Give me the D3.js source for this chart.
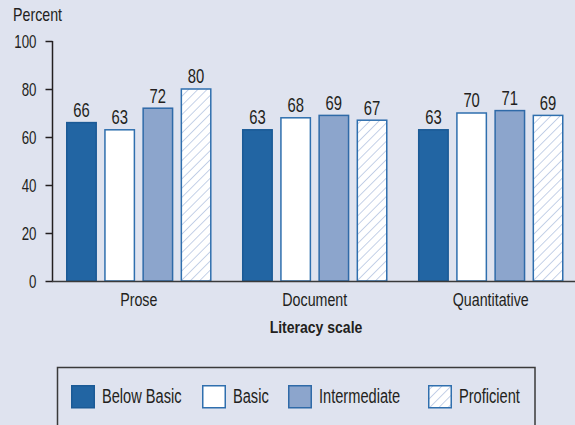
<!DOCTYPE html>
<html><head><meta charset="utf-8">
<script src="https://cdn.jsdelivr.net/npm/d3@7"></script>
<style>
html,body{margin:0;padding:0;background:#dfe3ef;}
svg{display:block;}
text{font-family:"Liberation Sans",Arial,sans-serif;fill:#231f20;}
</style></head>
<body>
<svg id="chart" width="575" height="425"></svg>
<script>
const categories = ["Prose", "Document", "Quantitative"];
const seriesNames = ["Below Basic", "Basic", "Intermediate", "Proficient"];
const belowBasic = [66, 63, 63];
const basic = [63, 68, 70];
const intermediate = [72, 69, 71];
const proficient = [80, 67, 69];
const yTicks = [0, 20, 40, 60, 80, 100];
const yLabel = "Percent";
const xLabel = "Literacy scale";

const seriesValues = [belowBasic, basic, intermediate, proficient];
const fills = ["#2265a3", "#ffffff", "#8ca5cc", "url(#hatch)"];
const strokes = ["#1b5a96", "#2f6fae", "#2f6aa8", "#2f6fae"];

function ctext(parent, x, yy, str, size, sx, anchor, weight) {
  return parent.append("text")
    .attr("transform", `scale(${sx},1)`)
    .attr("x", x / sx).attr("y", yy)
    .attr("text-anchor", anchor || "start")
    .attr("font-size", size)
    .attr("font-weight", weight || "normal")
    .text(str);
}

const svg = d3.select("#chart");
svg.append("rect").attr("width", 575).attr("height", 425).attr("fill", "#dfe3ef");

const defs = svg.append("defs");
const pat = defs.append("pattern").attr("id", "hatch").attr("patternUnits", "userSpaceOnUse")
  .attr("width", 6.5).attr("height", 6.5).attr("patternTransform", "rotate(45)");
pat.append("rect").attr("width", 6.5).attr("height", 6.5).attr("fill", "#ffffff");
pat.append("line").attr("x1", 0).attr("y1", 0).attr("x2", 0).attr("y2", 6.5)
  .attr("stroke", "#9fb4d8").attr("stroke-width", 1.2);

const y = d3.scaleLinear().domain([0, 100]).range([281, 41]);
const x0 = d3.scaleBand().domain(categories).range([66, 563.5]).paddingInner(0.173).paddingOuter(0);
const x1 = d3.scaleBand().domain(seriesNames).range([0, x0.bandwidth()]).paddingInner(0.19).paddingOuter(0);

// bars
categories.forEach((cat, ci) => {
  const g = svg.append("g").attr("transform", `translate(${x0(cat)},0)`);
  seriesNames.forEach((s, si) => {
    const v = seriesValues[si][ci];
    g.append("rect")
      .attr("x", x1(s) + 0.75).attr("y", y(v))
      .attr("width", x1.bandwidth() - 1.5).attr("height", y(0) - y(v))
      .attr("fill", fills[si]).attr("stroke", strokes[si]).attr("stroke-width", 1.5);
    ctext(g, x1(s) + x1.bandwidth() / 2, y(v) - 5.5, v, 19.5, 0.76, "middle");
  });
});

// y axis
const yAxis = d3.axisLeft(y).tickValues(yTicks).tickSize(7).tickFormat("");
const ya = svg.append("g").attr("transform", "translate(52.5,0)").call(yAxis);
ya.select(".domain").attr("stroke", "#231f20").attr("stroke-width", 1.5).attr("d", `M0,${y(100)}V${y(0)}`);
ya.selectAll(".tick line").attr("stroke", "#231f20").attr("stroke-width", 1.5);
ya.selectAll(".tick").each(function(d) {
  ctext(d3.select(this), -16, 6.5, d, 17.5, 0.76, "end");
});

// baseline
svg.append("line").attr("x1", 52).attr("x2", 575).attr("y1", y(0) + 0.5).attr("y2", y(0) + 0.5)
  .attr("stroke", "#3a3a3a").attr("stroke-width", 1.5);

// x category labels
const xAxis = d3.axisBottom(x0).tickSize(0).tickFormat("");
const xa = svg.append("g").attr("transform", `translate(0,${y(0)})`).call(xAxis);
xa.select(".domain").remove();
xa.selectAll(".tick").each(function(d) {
  ctext(d3.select(this), 0, 25.5, d, 18.5, 0.77, "middle");
});

ctext(svg, 316, 333, xLabel, 16.5, 0.85, "middle", "bold");
ctext(svg, 13, 21, yLabel, 18, 0.79, "start");

// legend
svg.append("rect").attr("x", 57.5).attr("y", 367.5).attr("width", 477.5).attr("height", 70)
  .attr("fill", "none").attr("stroke", "#3a3a3a").attr("stroke-width", 1.5);
const legX = [71, 202, 288, 428];
seriesNames.forEach((s, si) => {
  svg.append("rect").attr("x", legX[si] + 0.75).attr("y", 385.75).attr("width", 22.5).attr("height", 22)
    .attr("fill", fills[si]).attr("stroke", strokes[si]).attr("stroke-width", 1.5);
  ctext(svg, legX[si] + 31, 403, s, 19.5, 0.75, "start");
});
</script>
</body></html>
